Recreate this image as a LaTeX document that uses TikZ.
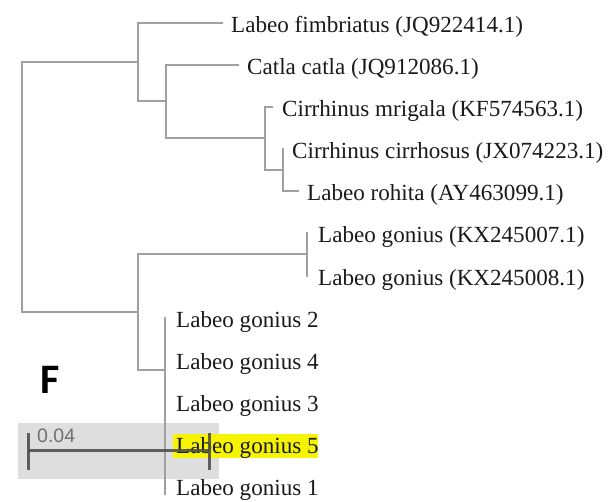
\documentclass[tikz,border=0pt]{standalone}
\usepackage{fontspec}
\setmainfont{Liberation Serif}
\newfontfamily\labelsans{Liberation Sans}
\newfontfamily\panelfont{Carlito}
\usetikzlibrary{calc}
\definecolor{branchgray}{HTML}{A0A0A0}
\definecolor{boxgray}{HTML}{DEDEDE}
\definecolor{barcol}{HTML}{505050}
\definecolor{scalelab}{HTML}{707070}
\definecolor{hiyellow}{HTML}{F6F400}
\definecolor{txt}{HTML}{1A1A1A}
\begin{document}
\begin{tikzpicture}[x=1pt,y=-1pt,
  branch/.style={draw=branchgray, line width=1.6pt, line cap=rect},
  leaf/.style={anchor=base west, inner sep=0pt, text=txt, font=\fontsize{23.1}{28}\selectfont},
  scalebar/.style={draw=barcol, line width=3pt, opacity=0.9}]
\useasboundingbox (0,0) rectangle (608,501);
% background box of the scale bar and highlight
\fill[boxgray] (18,423) rectangle (219,479);
\fill[hiyellow] (173,434) rectangle (318,458);
% internal nodes
\coordinate (root) at (22,187);
\coordinate (nA) at (138,62);
\coordinate (nB) at (166,101);
\coordinate (nC) at (265,138);
\coordinate (nD) at (283,170);
\coordinate (nE) at (138,312);
\coordinate (nF) at (307,254);
\coordinate (nG) at (165,370);
% tips
\coordinate (t1) at (222,23);
\coordinate (t2) at (238,65);
\coordinate (t3) at (272,107);
\coordinate (t4) at (283,149);
\coordinate (t5) at (298,191);
\coordinate (t6) at (307,233);
\coordinate (t7) at (307,276);
\coordinate (t8) at (165,318);
\coordinate (t9) at (165,360);
\coordinate (t10) at (165,402);
\coordinate (t11) at (165,444);
\coordinate (t12) at (165,486);
\coordinate (gEnd) at (165,494);
% branches
\draw[branch] (root) |- (nA);
\draw[branch] (root) |- (nE);
\draw[branch] (nA) |- (t1);
\draw[branch] (nA) |- (nB);
\draw[branch] (nB) |- (t2);
\draw[branch] (nB) |- (nC);
\draw[branch] (nC) |- (t3);
\draw[branch] (nC) |- (nD);
\draw[branch] (nD) |- (t4);
\draw[branch] (nD) |- (t5);
\draw[branch] (nE) |- (nF);
\draw[branch] (nE) |- (nG);
\draw[branch] (nF) |- (t6);
\draw[branch] (nF) |- (t7);
\draw[branch] (nG) |- (t8);
\draw[branch] (nG) |- (gEnd);
% leaf labels
\node[leaf] (l1) at ($(t1)+(9,9)$) {Labeo fimbriatus (JQ922414.1)};
\node[leaf] (l2) at ($(t2)+(9,9)$) {Catla catla (JQ912086.1)};
\node[leaf] (l3) at ($(t3)+(10,9)$) {Cirrhinus mrigala (KF574563.1)};
\node[leaf] (l4) at ($(t4)+(9,9)$) {Cirrhinus cirrhosus (JX074223.1)};
\node[leaf] (l5) at ($(t5)+(9,9)$) {Labeo rohita (AY463099.1)};
\node[leaf] (l6) at ($(t6)+(11,9)$) {Labeo gonius (KX245007.1)};
\node[leaf] (l7) at ($(t7)+(11,9)$) {Labeo gonius (KX245008.1)};
\node[leaf] (l8) at ($(t8)+(11,9)$) {Labeo gonius 2};
\node[leaf] (l9) at ($(t9)+(11,9)$) {Labeo gonius 4};
\node[leaf] (l10) at ($(t10)+(11,9)$) {Labeo gonius 3};
\node[leaf] (l11) at ($(t11)+(11,9)$) {Labeo gonius 5};
\node[leaf] (l12) at ($(t12)+(11,9)$) {Labeo gonius 1};
% panel letter
\node[anchor=base west, inner sep=0pt, font=\panelfont\bfseries\fontsize{42}{46}\selectfont] (panelF) at (40,393) {F};
% scale bar
\coordinate (sL) at (28,450);
\coordinate (sR) at (209,450);
\draw[scalebar] (sL) -- (sR);
\draw[scalebar] ($(sL)+(0,-17)$) -- ($(sL)+(0,20)$);
\draw[scalebar] ($(sR)+(0,-17)$) -- ($(sR)+(0,20)$);
\node[anchor=base west, inner sep=0pt, text=scalelab, font=\labelsans\fontsize{19.5}{22}\selectfont] (slab) at (37,442) {0.04};
\end{tikzpicture}
\end{document}
